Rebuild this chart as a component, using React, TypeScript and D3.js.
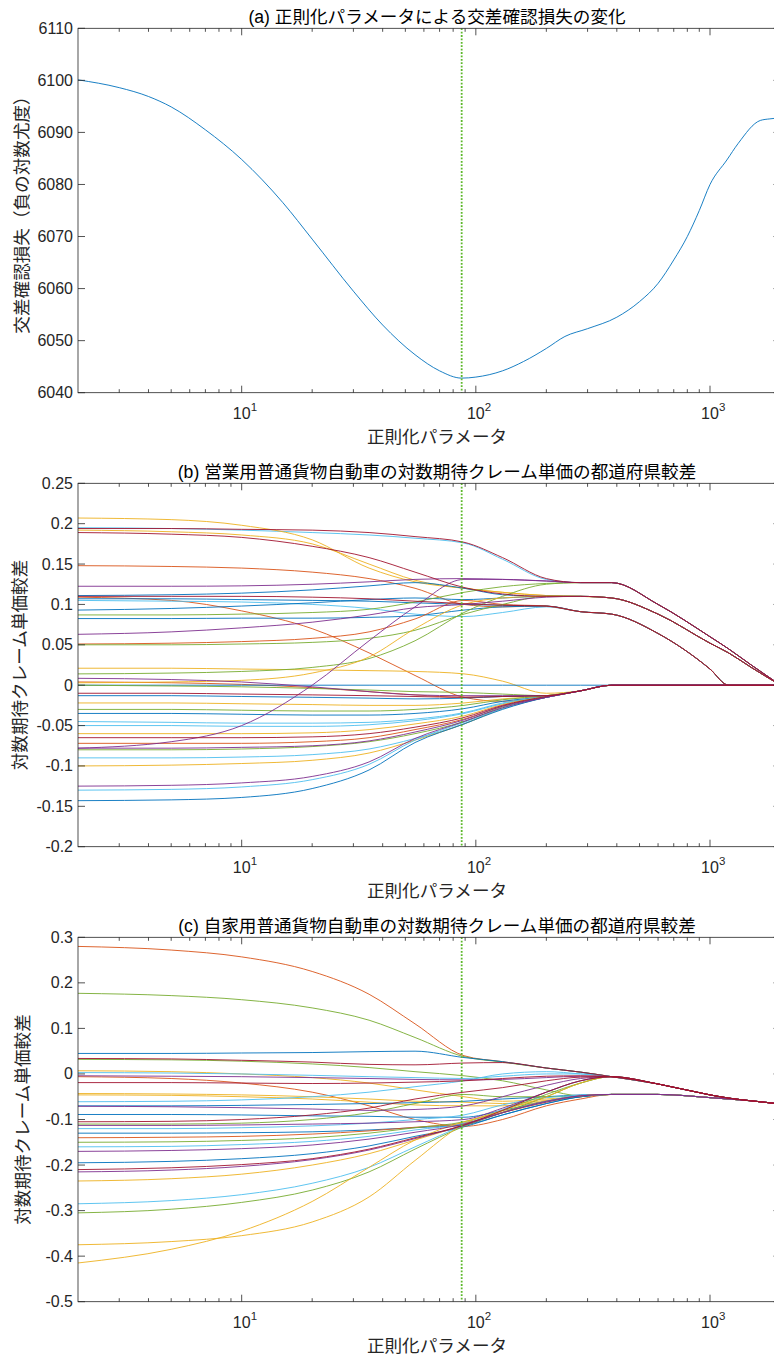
import React, { useEffect, useRef } from 'react'
import * as d3 from 'd3'

// MATLAB default line colours
const palette = ['#0072BD', '#D95319', '#EDB120', '#7E2F8E', '#77AC30', '#4DBEEE', '#A2142F']
const BLUE = 0, RED = 1, ORANGE = 2, PURPLE = 3, GREEN = 4, CYAN = 5, MAROON = 6

const optimalLambda = 87
const xDomain = [2, 2000]
const xTickExps = [1, 2, 3]

// (a) cross validation loss
const lambdaA = [2, 3, 4, 5, 7, 10, 15, 20, 30, 40, 55, 70, 87, 100, 130, 160, 200, 240, 300, 400, 500, 600, 700, 800, 900, 1000, 1180, 1320, 1640, 1800, 2000]
const lossA = [6100.1, 6098.6, 6096.9, 6094.9, 6090.5, 6084.8, 6076.5, 6069.5, 6059.5, 6053, 6047.3, 6044.2, 6042.8, 6043, 6044.2, 6046, 6048.5, 6050.8, 6052.3, 6054.5, 6057.5, 6061, 6065.5, 6070, 6075, 6080, 6084.7, 6087.9, 6092.3, 6092.6, 6092.8]
const ticksA = [6040, 6050, 6060, 6070, 6080, 6090, 6100, 6110]

// common lambda grid for (b) and (c)
const lambdaGrid = [2, 5, 10, 20, 35, 55, 89, 130, 200, 280, 380, 600, 1000, 1200, 1500, 2000]

// (b) heads: lambda 2..200, tails: lambda 280..2000
const tailsB: Record<string, number[]> = {
  A: [0.127, 0.127, 0.100, 0.060, 0.045, 0.025, 0.0],
  B: [0.110, 0.108, 0.088, 0.052, 0.040, 0.022, 0.0],
  C: [0.091, 0.088, 0.064, 0.020, 0.0, 0.0, 0.0],
  Z: [-0.007, 0.0, 0.0, 0.0, 0.0, 0.0, 0.0],
  O: [0, 0, 0, 0, 0, 0, 0],
}
const colorB = [MAROON, CYAN, ORANGE, ORANGE, MAROON, RED, PURPLE, BLUE, MAROON, RED, BLUE, CYAN, BLUE, GREEN, BLUE, PURPLE, RED, GREEN, ORANGE, GREEN, PURPLE, RED, ORANGE, BLUE, GREEN, MAROON, BLUE, PURPLE, ORANGE, GREEN, BLUE, CYAN, CYAN, ORANGE, MAROON, RED, PURPLE, GREEN, CYAN, ORANGE, PURPLE, CYAN, BLUE]
const bundleB = ['A', 'A', 'B', 'B', 'B', 'C', 'A', 'B', 'C', 'Z', 'C', 'C', 'B', 'A', 'C', 'B', 'C', 'B', 'Z', 'A', 'Z', 'Z', 'B', 'O', 'Z', 'Z', 'Z', 'A', 'Z', 'Z', 'Z', 'Z', 'Z', 'Z', 'Z', 'Z', 'Z', 'Z', 'Z', 'Z', 'Z', 'Z', 'Z']
const headsB = [
  [0.194, 0.194, 0.193, 0.192, 0.189, 0.184, 0.177, 0.158, 0.132],
  [0.195, 0.194, 0.192, 0.189, 0.186, 0.182, 0.176, 0.156, 0.131],
  [0.207, 0.205, 0.198, 0.180, 0.145, 0.128, 0.120, 0.115, 0.111],
  [0.192, 0.190, 0.186, 0.175, 0.150, 0.130, 0.120, 0.115, 0.111],
  [0.189, 0.187, 0.183, 0.172, 0.158, 0.140, 0.121, 0.113, 0.110],
  [0.148, 0.147, 0.145, 0.140, 0.132, 0.120, 0.100, 0.097, 0.098],
  [0.1225, 0.1225, 0.123, 0.125, 0.128, 0.131, 0.132, 0.131, 0.129],
  [0.111, 0.112, 0.114, 0.118, 0.123, 0.127, 0.120, 0.112, 0.110],
  [0.110, 0.110, 0.110, 0.109, 0.107, 0.104, 0.101, 0.099, 0.098],
  [0.109, 0.105, 0.092, 0.070, 0.040, 0.012, -0.015, -0.020, -0.014],
  [0.107, 0.107, 0.106, 0.105, 0.104, 0.102, 0.100, 0.099, 0.098],
  [0.105, 0.104, 0.103, 0.100, 0.095, 0.088, 0.085, 0.090, 0.097],
  [0.093, 0.095, 0.098, 0.102, 0.106, 0.108, 0.106, 0.108, 0.110],
  [0.087, 0.087, 0.088, 0.090, 0.094, 0.103, 0.115, 0.122, 0.126],
  [0.0825, 0.0825, 0.083, 0.083, 0.084, 0.086, 0.093, 0.097, 0.098],
  [0.063, 0.066, 0.071, 0.078, 0.087, 0.096, 0.100, 0.104, 0.109],
  [0.051, 0.052, 0.054, 0.058, 0.066, 0.082, 0.105, 0.100, 0.098],
  [0.050, 0.050, 0.051, 0.053, 0.058, 0.068, 0.088, 0.100, 0.110],
  [0.021, 0.021, 0.020, 0.019, 0.018, 0.017, 0.014, 0.005, -0.010],
  [0.014, 0.015, 0.017, 0.022, 0.033, 0.055, 0.090, 0.110, 0.125],
  [0.0085, 0.007, 0.004, -0.002, -0.008, -0.012, -0.013, -0.013, -0.013],
  [0.004, 0.003, 0.001, -0.003, -0.008, -0.012, -0.015, -0.014, -0.013],
  [0.003, 0.004, 0.006, 0.015, 0.035, 0.070, 0.100, 0.108, 0.110],
  [0, 0, 0, 0, 0, 0, 0, 0, 0],
  [0.0, -0.001, -0.002, -0.004, -0.006, -0.008, -0.009, -0.011, -0.013],
  [-0.010, -0.010, -0.011, -0.012, -0.013, -0.014, -0.015, -0.014, -0.013],
  [-0.013, -0.013, -0.014, -0.015, -0.016, -0.017, -0.016, -0.014, -0.013],
  [-0.078, -0.070, -0.050, 0.000, 0.055, 0.097, 0.131, 0.131, 0.129],
  [-0.022, -0.022, -0.023, -0.024, -0.025, -0.025, -0.022, -0.017, -0.013],
  [-0.030, -0.030, -0.031, -0.032, -0.032, -0.030, -0.025, -0.018, -0.013],
  [-0.035, -0.035, -0.036, -0.037, -0.037, -0.035, -0.029, -0.020, -0.014],
  [-0.045, -0.046, -0.047, -0.047, -0.046, -0.042, -0.034, -0.022, -0.014],
  [-0.050, -0.050, -0.051, -0.051, -0.049, -0.044, -0.035, -0.023, -0.014],
  [-0.060, -0.060, -0.060, -0.059, -0.055, -0.048, -0.038, -0.024, -0.014],
  [-0.065, -0.065, -0.065, -0.064, -0.060, -0.052, -0.040, -0.025, -0.014],
  [-0.072, -0.072, -0.072, -0.070, -0.065, -0.055, -0.042, -0.026, -0.015],
  [-0.078, -0.078, -0.077, -0.075, -0.069, -0.058, -0.043, -0.026, -0.015],
  [-0.080, -0.080, -0.079, -0.076, -0.070, -0.060, -0.045, -0.027, -0.015],
  [-0.090, -0.090, -0.089, -0.086, -0.079, -0.066, -0.048, -0.028, -0.015],
  [-0.100, -0.099, -0.097, -0.093, -0.084, -0.068, -0.048, -0.029, -0.015],
  [-0.125, -0.124, -0.121, -0.113, -0.095, -0.066, -0.045, -0.028, -0.015],
  [-0.130, -0.129, -0.126, -0.117, -0.098, -0.068, -0.046, -0.029, -0.015],
  [-0.143, -0.142, -0.139, -0.128, -0.105, -0.071, -0.048, -0.030, -0.015],
]
const ticksB = [-0.2, -0.15, -0.1, -0.05, 0, 0.05, 0.1, 0.15, 0.2, 0.25]

// (c) heads: lambda 2..280, tails: lambda 380..2000
const tailsC: Record<string, number[]> = {
  U: [-0.006, -0.022, -0.046, -0.053, -0.059, -0.066],
  W: [-0.045, -0.045, -0.052, -0.055, -0.059, -0.066],
}
const colorC = [RED, GREEN, BLUE, MAROON, GREEN, ORANGE, CYAN, PURPLE, RED, MAROON, ORANGE, ORANGE, CYAN, BLUE, PURPLE, BLUE, MAROON, GREEN, PURPLE, CYAN, BLUE, RED, GREEN, CYAN, PURPLE, BLUE, MAROON, PURPLE, ORANGE, CYAN, GREEN, ORANGE, ORANGE]
const bundleC = ['U', 'U', 'U', 'U', 'W', 'W', 'U', 'U', 'W', 'U', 'W', 'W', 'U', 'W', 'U', 'W', 'U', 'W', 'U', 'W', 'W', 'W', 'U', 'U', 'W', 'W', 'U', 'W', 'W', 'W', 'U', 'U', 'W']
const headsC = [
  [0.280, 0.272, 0.257, 0.225, 0.175, 0.110, 0.040, 0.027, 0.013, 0.004],
  [0.177, 0.172, 0.163, 0.145, 0.118, 0.080, 0.038, 0.026, 0.013, 0.004],
  [0.045, 0.045, 0.046, 0.047, 0.049, 0.050, 0.036, 0.027, 0.013, 0.004],
  [0.034, 0.033, 0.030, 0.026, 0.021, 0.020, 0.024, 0.025, 0.013, 0.004],
  [0.032, 0.031, 0.028, 0.022, 0.014, 0.005, -0.004, -0.015, -0.035, -0.048],
  [0.007, 0.005, 0.000, -0.008, -0.020, -0.035, -0.050, -0.060, -0.055, -0.050],
  [0.003, 0.002, 0.000, -0.003, -0.006, -0.008, -0.010, -0.005, 0.000, 0.000],
  [-0.004, -0.005, -0.006, -0.008, -0.010, -0.012, -0.013, -0.012, -0.008, -0.005],
  [-0.006, -0.010, -0.020, -0.040, -0.070, -0.100, -0.115, -0.100, -0.070, -0.055],
  [-0.019, -0.019, -0.020, -0.021, -0.020, -0.018, -0.015, -0.010, -0.005, -0.004],
  [-0.043, -0.044, -0.046, -0.050, -0.055, -0.060, -0.062, -0.065, -0.058, -0.050],
  [-0.046, -0.047, -0.050, -0.055, -0.062, -0.068, -0.070, -0.070, -0.060, -0.050],
  [-0.061, -0.060, -0.057, -0.050, -0.040, -0.028, -0.015, 0.000, 0.005, 0.000],
  [-0.070, -0.070, -0.069, -0.067, -0.065, -0.063, -0.060, -0.055, -0.050, -0.046],
  [-0.071, -0.072, -0.074, -0.077, -0.080, -0.078, -0.070, -0.050, -0.025, -0.010],
  [-0.089, -0.089, -0.090, -0.092, -0.093, -0.095, -0.095, -0.080, -0.060, -0.050],
  [-0.105, -0.104, -0.100, -0.090, -0.075, -0.055, -0.040, -0.030, -0.015, -0.007],
  [-0.110, -0.110, -0.108, -0.100, -0.085, -0.065, -0.045, -0.050, -0.050, -0.048],
  [-0.113, -0.113, -0.112, -0.110, -0.108, -0.105, -0.100, -0.075, -0.040, -0.015],
  [-0.120, -0.120, -0.118, -0.114, -0.108, -0.100, -0.090, -0.068, -0.052, -0.047],
  [-0.130, -0.130, -0.129, -0.127, -0.123, -0.118, -0.112, -0.090, -0.065, -0.050],
  [-0.140, -0.139, -0.137, -0.132, -0.125, -0.117, -0.108, -0.085, -0.060, -0.048],
  [-0.150, -0.149, -0.146, -0.140, -0.130, -0.118, -0.105, -0.080, -0.045, -0.020],
  [-0.160, -0.159, -0.155, -0.148, -0.137, -0.123, -0.108, -0.078, -0.040, -0.015],
  [-0.170, -0.168, -0.164, -0.156, -0.143, -0.128, -0.110, -0.085, -0.060, -0.048],
  [-0.195, -0.192, -0.186, -0.175, -0.158, -0.137, -0.116, -0.090, -0.065, -0.050],
  [-0.210, -0.206, -0.199, -0.186, -0.165, -0.140, -0.112, -0.080, -0.040, -0.015],
  [-0.215, -0.211, -0.203, -0.188, -0.167, -0.142, -0.113, -0.085, -0.062, -0.048],
  [-0.235, -0.230, -0.220, -0.200, -0.175, -0.145, -0.112, -0.083, -0.060, -0.048],
  [-0.285, -0.278, -0.265, -0.240, -0.205, -0.160, -0.113, -0.085, -0.060, -0.047],
  [-0.305, -0.297, -0.282, -0.255, -0.215, -0.165, -0.115, -0.085, -0.050, -0.020],
  [-0.375, -0.368, -0.355, -0.325, -0.270, -0.190, -0.110, -0.080, -0.050, -0.020],
  [-0.415, -0.385, -0.345, -0.280, -0.205, -0.145, -0.105, -0.085, -0.062, -0.048],
]
const ticksC = [-0.5, -0.4, -0.3, -0.2, -0.1, 0, 0.1, 0.2, 0.3]

const xLabel = '正則化パラメータ'
const FONT = "'Liberation Sans', Arial, 'Noto Sans CJK JP', sans-serif"
const AXIS = '#262626'

type Series = { colorIdx: number; xs: number[]; ys: number[] }
type Panel = {
  id: string
  top: number
  bottom: number
  yDomain: [number, number]
  yTicks: number[]
  title: string
  ylabel: string
  ylabelX: number
  series: Series[]
}

// draw maroon / purple last so the merged bundles look like the original
const drawRank = (c: number) => (c === MAROON ? 2 : c === PURPLE ? 1 : 0)
const ordered = (s: Series[]) => s.slice().sort((a, b) => drawRank(a.colorIdx) - drawRank(b.colorIdx))

const panels: Panel[] = [
  {
    id: 'a', top: 28.3, bottom: 392.7, yDomain: [6040, 6110], yTicks: ticksA,
    title: '(a) 正則化パラメータによる交差確認損失の変化',
    ylabel: '交差確認損失（負の対数尤度）', ylabelX: 22,
    series: [{ colorIdx: BLUE, xs: lambdaA, ys: lossA }],
  },
  {
    id: 'b', top: 483.3, bottom: 846.7, yDomain: [-0.2, 0.25], yTicks: ticksB,
    title: '(b) 営業用普通貨物自動車の対数期待クレーム単価の都道府県較差',
    ylabel: '対数期待クレーム単価較差', ylabelX: 20,
    series: ordered(headsB.map((h, i) => ({ colorIdx: colorB[i], xs: lambdaGrid, ys: h.concat(tailsB[bundleB[i]]) }))),
  },
  {
    id: 'c', top: 937.3, bottom: 1301.7, yDomain: [-0.5, 0.3], yTicks: ticksC,
    title: '(c) 自家用普通貨物自動車の対数期待クレーム単価の都道府県較差',
    ylabel: '対数期待クレーム単価較差', ylabelX: 23,
    series: ordered(headsC.map((h, i) => ({ colorIdx: colorC[i], xs: lambdaGrid, ys: h.concat(tailsC[bundleC[i]]) }))),
  },
]

const App = () => {
  const svgRef = useRef<SVGSVGElement>(null)

  useEffect(() => {
    const svg = d3.select(svgRef.current)
    svg.selectAll('*').remove()

    const x = d3.scaleLog().domain(xDomain).range([78, 780.5])
    const [x0, x1] = x.range()
    const labelCx = 437

    const minor: number[] = []
    for (let k = 0; k <= 3; k++) {
      for (let m = 2; m <= 9; m++) {
        const v = m * Math.pow(10, k)
        if (v > xDomain[0] && v < xDomain[1]) minor.push(v)
      }
    }
    const major = xTickExps.map(e => Math.pow(10, e))

    panels.forEach(p => {
      const y = d3.scaleLinear().domain(p.yDomain).range([p.bottom, p.top])
      const g = svg.append('g')

      g.append('clipPath').attr('id', 'clip-' + p.id)
        .append('rect').attr('x', x0).attr('y', p.top).attr('width', x1 - x0).attr('height', p.bottom - p.top)

      const lines = g.append('g').attr('clip-path', `url(#clip-${p.id})`)
      p.series.forEach(s => {
        const line = d3.line<number>()
          .x((_, i) => x(s.xs[i]))
          .y(d => y(d))
          .curve(d3.curveMonotoneX)
        lines.append('path')
          .attr('d', line(s.ys))
          .attr('fill', 'none')
          .attr('stroke', palette[s.colorIdx])
          .attr('stroke-width', 0.9)
      })

      lines.append('line')
        .attr('x1', x(optimalLambda)).attr('x2', x(optimalLambda))
        .attr('y1', p.top).attr('y2', p.bottom)
        .attr('stroke', '#5cb82a').attr('stroke-width', 1.8)
        .attr('stroke-dasharray', '1.8,1.6')

      // box
      g.append('rect')
        .attr('x', x0).attr('y', p.top).attr('width', x1 - x0).attr('height', p.bottom - p.top)
        .attr('fill', 'none').attr('stroke', AXIS).attr('stroke-width', 0.8)

      // x ticks (top and bottom, inward)
      const ticks = g.append('g').attr('stroke', AXIS).attr('stroke-width', 0.8)
      major.forEach(v => {
        ticks.append('line').attr('x1', x(v)).attr('x2', x(v)).attr('y1', p.bottom).attr('y2', p.bottom - 7)
        ticks.append('line').attr('x1', x(v)).attr('x2', x(v)).attr('y1', p.top).attr('y2', p.top + 7)
      })
      minor.forEach(v => {
        ticks.append('line').attr('x1', x(v)).attr('x2', x(v)).attr('y1', p.bottom).attr('y2', p.bottom - 3.5)
        ticks.append('line').attr('x1', x(v)).attr('x2', x(v)).attr('y1', p.top).attr('y2', p.top + 3.5)
      })
      p.yTicks.forEach(v => {
        ticks.append('line').attr('x1', x0).attr('x2', x0 + 7).attr('y1', y(v)).attr('y2', y(v))
        ticks.append('line').attr('x1', x1).attr('x2', x1 - 7).attr('y1', y(v)).attr('y2', y(v))
      })

      // y tick labels
      p.yTicks.forEach(v => {
        g.append('text')
          .attr('x', x0 - 5).attr('y', y(v))
          .attr('text-anchor', 'end').attr('dominant-baseline', 'central')
          .attr('font-family', FONT).attr('font-size', 16).attr('fill', AXIS)
          .text(String(v))
      })

      // x tick labels 10^k
      xTickExps.forEach(e => {
        const tx = x(Math.pow(10, e))
        g.append('text')
          .attr('x', tx).attr('y', p.bottom + 26)
          .attr('text-anchor', 'middle')
          .attr('font-family', FONT).attr('font-size', 16).attr('fill', AXIS)
          .text('10')
        g.append('text')
          .attr('x', tx + 9).attr('y', p.bottom + 18)
          .attr('font-family', FONT).attr('font-size', 11.5).attr('fill', AXIS)
          .text(String(e))
      })

      // x label
      g.append('text')
        .attr('x', labelCx).attr('y', p.bottom + 50)
        .attr('text-anchor', 'middle')
        .attr('font-family', FONT).attr('font-size', 17.6).attr('fill', AXIS)
        .text(xLabel)

      // title
      g.append('text')
        .attr('x', labelCx).attr('y', p.top - 5)
        .attr('text-anchor', 'middle')
        .attr('font-family', FONT).attr('font-size', 17.6).attr('fill', '#000')
        .text(p.title)

      // y label
      g.append('text')
        .attr('transform', `translate(${p.ylabelX},${(p.top + p.bottom) / 2}) rotate(-90)`)
        .attr('text-anchor', 'middle').attr('dominant-baseline', 'central')
        .attr('font-family', FONT).attr('font-size', 17.6).attr('fill', AXIS)
        .text(p.ylabel)
    })
  }, [])

  return (
    <div>
      <svg ref={svgRef} width={774} height={1355}
        style={{ position: 'absolute', left: 0, top: 0, background: '#fff' }} />
    </div>
  )
}

export default App
